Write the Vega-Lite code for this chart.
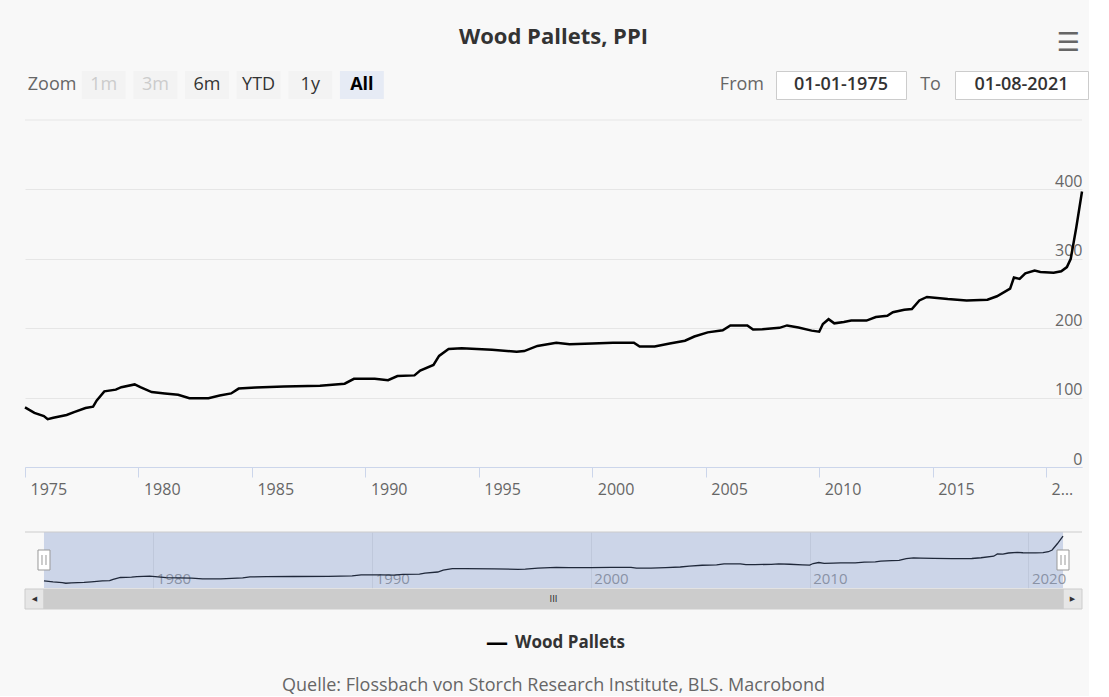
{
  "$schema": "https://vega.github.io/schema/vega-lite/v6.json",
  "background": "#f8f8f8",
  "padding": {"left": 20, "top": 16, "right": 0, "bottom": 0},
  "config": {
    "font": "Open Sans",
    "view": {"stroke": null},
    "axis": {"labelFont": "Open Sans"}
  },
  "datasets": {
    "ppi": [
      {"date": "1975-01-01", "value": 86},
      {"date": "1975-06-01", "value": 78},
      {"date": "1975-11-01", "value": 73.5},
      {"date": "1976-01-01", "value": 69},
      {"date": "1976-04-01", "value": 71},
      {"date": "1976-11-01", "value": 75},
      {"date": "1977-03-01", "value": 79},
      {"date": "1977-09-01", "value": 85},
      {"date": "1978-01-01", "value": 87},
      {"date": "1978-03-01", "value": 96},
      {"date": "1978-07-01", "value": 109},
      {"date": "1979-01-01", "value": 111.5},
      {"date": "1979-04-01", "value": 115},
      {"date": "1979-11-01", "value": 119},
      {"date": "1980-02-01", "value": 115},
      {"date": "1980-08-01", "value": 108},
      {"date": "1981-03-01", "value": 106},
      {"date": "1981-10-01", "value": 104},
      {"date": "1982-04-01", "value": 99},
      {"date": "1983-02-01", "value": 99},
      {"date": "1983-08-01", "value": 103},
      {"date": "1984-02-01", "value": 106},
      {"date": "1984-06-01", "value": 113},
      {"date": "1985-03-01", "value": 114.5},
      {"date": "1986-06-01", "value": 116},
      {"date": "1988-01-01", "value": 117},
      {"date": "1989-02-01", "value": 120},
      {"date": "1989-07-01", "value": 127},
      {"date": "1990-06-01", "value": 127},
      {"date": "1991-01-01", "value": 125},
      {"date": "1991-06-01", "value": 131},
      {"date": "1992-03-01", "value": 132},
      {"date": "1992-06-01", "value": 139},
      {"date": "1993-01-01", "value": 147},
      {"date": "1993-04-01", "value": 160},
      {"date": "1993-09-01", "value": 170},
      {"date": "1994-04-01", "value": 171},
      {"date": "1995-08-01", "value": 169},
      {"date": "1996-09-01", "value": 166},
      {"date": "1997-01-01", "value": 167},
      {"date": "1997-08-01", "value": 174.5},
      {"date": "1998-06-01", "value": 179},
      {"date": "1999-01-01", "value": 177},
      {"date": "2000-01-01", "value": 178},
      {"date": "2000-12-01", "value": 179},
      {"date": "2001-11-01", "value": 179},
      {"date": "2002-02-01", "value": 173.5},
      {"date": "2002-10-01", "value": 173.5},
      {"date": "2003-06-01", "value": 178},
      {"date": "2004-02-01", "value": 182},
      {"date": "2004-07-01", "value": 188},
      {"date": "2005-02-01", "value": 194},
      {"date": "2005-10-01", "value": 197},
      {"date": "2006-02-01", "value": 204},
      {"date": "2006-11-01", "value": 204},
      {"date": "2007-02-01", "value": 198},
      {"date": "2007-07-01", "value": 198.5},
      {"date": "2008-04-01", "value": 200.5},
      {"date": "2008-08-01", "value": 204},
      {"date": "2009-02-01", "value": 201},
      {"date": "2009-09-01", "value": 196.5},
      {"date": "2010-01-01", "value": 195},
      {"date": "2010-03-01", "value": 206},
      {"date": "2010-06-01", "value": 213},
      {"date": "2010-09-01", "value": 207},
      {"date": "2011-02-01", "value": 209},
      {"date": "2011-06-01", "value": 211},
      {"date": "2012-02-01", "value": 211},
      {"date": "2012-07-01", "value": 216},
      {"date": "2013-01-01", "value": 218},
      {"date": "2013-04-01", "value": 223},
      {"date": "2013-10-01", "value": 226.5},
      {"date": "2014-02-01", "value": 227.5},
      {"date": "2014-06-01", "value": 240},
      {"date": "2014-10-01", "value": 245},
      {"date": "2015-02-01", "value": 244},
      {"date": "2015-09-01", "value": 242},
      {"date": "2016-07-01", "value": 240},
      {"date": "2017-06-01", "value": 241},
      {"date": "2017-11-01", "value": 246},
      {"date": "2018-06-01", "value": 257},
      {"date": "2018-08-01", "value": 273},
      {"date": "2018-11-01", "value": 271},
      {"date": "2019-02-01", "value": 279},
      {"date": "2019-07-01", "value": 283},
      {"date": "2019-10-01", "value": 281},
      {"date": "2020-05-01", "value": 280},
      {"date": "2020-09-01", "value": 282},
      {"date": "2020-12-01", "value": 288},
      {"date": "2021-02-01", "value": 300},
      {"date": "2021-05-01", "value": 345},
      {"date": "2021-08-01", "value": 397}
    ],
    "buttons": [
      {"button": "Zoom", "state": "label"},
      {"button": "1m", "state": "disabled"},
      {"button": "3m", "state": "disabled"},
      {"button": "6m", "state": "enabled"},
      {"button": "YTD", "state": "enabled"},
      {"button": "1y", "state": "enabled"},
      {"button": "All", "state": "selected"}
    ],
    "scroll": [
      {"part": "button", "side": "left", "start": "1974-02-18", "end": "1975-01-01"},
      {"part": "thumb", "side": "middle", "start": "1975-01-01", "end": "2021-08-01"},
      {"part": "button", "side": "right", "start": "2021-08-01", "end": "2022-06-14"}
    ]
  },
  "spacing": 19,
  "vconcat": [
    {
      "spacing": 14,
      "vconcat": [
        {
          "width": 1057,
          "height": 40,
          "data": {"values": [{"title": "Wood Pallets, PPI"}]},
          "layer": [
            {
              "mark": {"type": "text", "fontSize": 22, "fontWeight": "bold", "color": "#333333", "dy": 1},
              "encoding": {"text": {"field": "title"}}
            },
            {
              "mark": {"type": "text", "text": "☰", "font": "DejaVu Sans", "fontSize": 26, "color": "#666666", "align": "right", "dx": -2, "dy": 6.5},
              "encoding": {"x": {"value": "width"}}
            }
          ]
        },
        {
          "spacing": 0,
          "hconcat": [
            {
              "width": 364,
              "height": 28,
              "data": {"name": "buttons"},
              "encoding": {
                "x": {
                  "field": "button",
                  "type": "nominal",
                  "sort": null,
                  "scale": {"domain": ["Zoom", "1m", "3m", "6m", "YTD", "1y", "All"], "paddingInner": 0.15, "paddingOuter": 0.1},
                  "axis": null
                }
              },
              "layer": [
                {
                  "transform": [{"filter": "datum.state == 'disabled' || datum.state == 'enabled'"}],
                  "mark": {"type": "rect", "fill": "#f3f3f3"}
                },
                {
                  "transform": [{"filter": "datum.state == 'selected'"}],
                  "mark": {"type": "rect", "fill": "#e6ebf5"}
                },
                {
                  "transform": [{"filter": "datum.state == 'label'"}],
                  "mark": {"type": "text", "fontSize": 18, "color": "#666666"},
                  "encoding": {"text": {"field": "button"}}
                },
                {
                  "transform": [{"filter": "datum.state == 'disabled'"}],
                  "mark": {"type": "text", "fontSize": 18, "color": "#cccccc"},
                  "encoding": {"text": {"field": "button"}}
                },
                {
                  "transform": [{"filter": "datum.state == 'enabled'"}],
                  "mark": {"type": "text", "fontSize": 18, "color": "#333333"},
                  "encoding": {"text": {"field": "button"}}
                },
                {
                  "transform": [{"filter": "datum.state == 'selected'"}],
                  "mark": {"type": "text", "fontSize": 18, "fontWeight": "bold", "color": "#000000"},
                  "encoding": {"text": {"field": "button"}}
                }
              ]
            },
            {
              "width": 386,
              "height": 28,
              "data": {"values": [{"t": "From"}]},
              "mark": {"type": "text", "align": "right", "dx": -11, "fontSize": 18, "color": "#666666"},
              "encoding": {"x": {"value": "width"}, "text": {"field": "t"}}
            },
            {
              "width": 130,
              "height": 28,
              "view": {"fill": "#ffffff", "stroke": "#cccccc"},
              "data": {"values": [{"t": "01-01-1975"}]},
              "mark": {"type": "text", "fontSize": 18, "fontWeight": 600, "color": "#333333"},
              "encoding": {"text": {"field": "t"}}
            },
            {
              "width": 47,
              "height": 28,
              "data": {"values": [{"t": "To"}]},
              "mark": {"type": "text", "fontSize": 18, "color": "#666666"},
              "encoding": {"text": {"field": "t"}}
            },
            {
              "width": 133,
              "height": 28,
              "view": {"fill": "#ffffff", "stroke": "#cccccc"},
              "data": {"values": [{"t": "01-08-2021"}]},
              "mark": {"type": "text", "fontSize": 18, "fontWeight": 600, "color": "#333333"},
              "encoding": {"text": {"field": "t"}}
            }
          ]
        }
      ]
    },
    {
      "width": 1057,
      "height": 347,
      "data": {"name": "ppi"},
      "layer": [
        {
          "data": {"values": [{"level": 500}]},
          "mark": {"type": "rule", "color": "#e6e6e6", "strokeWidth": 1},
          "encoding": {"y": {"field": "level", "type": "quantitative"}}
        },
        {
          "mark": {"type": "line", "color": "#000000", "strokeWidth": 2.5},
          "encoding": {
            "x": {
              "field": "date",
              "type": "temporal",
              "scale": {"type": "utc", "domain": [{"year": 1975, "month": 1, "date": 1, "utc": true}, {"year": 2021, "month": 8, "date": 1, "utc": true}]},
              "axis": {
                "title": null,
                "values": [
                  {"year": 1975, "utc": true}, {"year": 1980, "utc": true}, {"year": 1985, "utc": true},
                  {"year": 1990, "utc": true}, {"year": 1995, "utc": true}, {"year": 2000, "utc": true},
                  {"year": 2005, "utc": true}, {"year": 2010, "utc": true}, {"year": 2015, "utc": true},
                  {"year": 2020, "utc": true}
                ],
                "format": "%Y",
                "labelExpr": "utcyear(datum.value) == 2020 ? '2…' : datum.label",
                "grid": false,
                "domainColor": "#ccd6eb",
                "tickColor": "#ccd6eb",
                "tickSize": 10,
                "labelAlign": "left",
                "labelOffset": 5,
                "labelPadding": 4,
                "labelColor": "#666666",
                "labelFontSize": 16,
                "labelFlush": false,
                "labelOverlap": false,
                "minExtent": 45,
                "maxExtent": 45
              }
            },
            "y": {
              "field": "value",
              "type": "quantitative",
              "scale": {"domain": [0, 500], "nice": false},
              "axis": {
                "title": null,
                "orient": "right",
                "values": [0, 100, 200, 300, 400],
                "grid": true,
                "gridColor": "#e6e6e6",
                "domain": false,
                "ticks": false,
                "tickSize": 0,
                "labelAlign": "right",
                "labelBaseline": "alphabetic",
                "labelOffset": -3,
                "labelPadding": 0,
                "labelColor": "#666666",
                "labelFontSize": 16,
                "labelFlush": false,
                "labelOverlap": false,
                "minExtent": 0,
                "maxExtent": 0
              }
            }
          }
        }
      ]
    },
    {
      "spacing": 0,
      "vconcat": [
        {
          "width": 1057,
          "height": 56,
          "layer": [
            {
              "data": {"name": "scroll"},
              "transform": [{"filter": "datum.part == 'thumb'"}],
              "mark": {"type": "rect", "fill": "#6685c2", "opacity": 0.3},
              "encoding": {
                "x": {
                  "field": "start",
                  "type": "temporal",
                  "scale": {"type": "utc", "domain": [{"year": 1974, "month": 2, "date": 18, "utc": true}, {"year": 2022, "month": 6, "date": 14, "utc": true}]},
                  "axis": {
                    "title": null,
                    "values": [
                      {"year": 1980, "utc": true}, {"year": 1990, "utc": true}, {"year": 2000, "utc": true},
                      {"year": 2010, "utc": true}, {"year": 2020, "utc": true}
                    ],
                    "format": "%Y",
                    "grid": true,
                    "gridColor": "#e6e6e6",
                    "domain": false,
                    "ticks": false,
                    "tickSize": 0,
                    "labelAlign": "left",
                    "labelBaseline": "middle",
                    "labelOffset": 3,
                    "labelPadding": -10,
                    "labelColor": "#999999",
                    "labelFontSize": 15,
                    "labelFlush": false,
                    "labelOverlap": false,
                    "minExtent": 0,
                    "maxExtent": 0
                  }
                },
                "x2": {"field": "end"}
              }
            },
            {
              "data": {"values": [{"level": 425}]},
              "mark": {"type": "rule", "color": "#cccccc", "strokeWidth": 1},
              "encoding": {
                "y": {"field": "level", "type": "quantitative", "scale": {"domain": [36, 425], "nice": false, "zero": false}, "axis": null}
              }
            },
            {
              "data": {"name": "ppi"},
              "mark": {"type": "line", "color": "#1f283a", "strokeWidth": 1.3},
              "encoding": {
                "x": {"field": "date", "type": "temporal", "title": null},
                "y": {"field": "value", "type": "quantitative", "scale": {"domain": [36, 425], "nice": false, "zero": false}, "axis": null}
              }
            },
            {
              "data": {"name": "scroll"},
              "transform": [{"filter": "datum.part == 'thumb'"}],
              "mark": {"type": "point", "shape": "M-0.6,-1H0.6V1H-0.6Z M-0.2,-0.5V0.5 M0.2,-0.5V0.5", "size": 400, "filled": true, "fill": "#ffffff", "stroke": "#999999", "strokeWidth": 1, "opacity": 1},
              "encoding": {"x": {"field": "start", "type": "temporal", "title": null}}
            },
            {
              "data": {"name": "scroll"},
              "transform": [{"filter": "datum.part == 'thumb'"}],
              "mark": {"type": "point", "shape": "M-0.6,-1H0.6V1H-0.6Z M-0.2,-0.5V0.5 M0.2,-0.5V0.5", "size": 400, "filled": true, "fill": "#ffffff", "stroke": "#999999", "strokeWidth": 1, "opacity": 1},
              "encoding": {"x": {"field": "end", "type": "temporal", "title": null}}
            }
          ]
        },
        {
          "width": 1057,
          "height": 20,
          "data": {"name": "scroll"},
          "layer": [
            {
              "transform": [{"filter": "datum.part == 'button'"}],
              "mark": {"type": "rect", "fill": "#e6e6e6", "stroke": "#cccccc", "strokeWidth": 1},
              "encoding": {
                "x": {
                  "field": "start",
                  "type": "temporal",
                  "scale": {"type": "utc", "domain": [{"year": 1974, "month": 2, "date": 18, "utc": true}, {"year": 2022, "month": 6, "date": 14, "utc": true}]},
                  "axis": null
                },
                "x2": {"field": "end"}
              }
            },
            {
              "transform": [{"filter": "datum.part == 'thumb'"}],
              "mark": {"type": "rect", "fill": "#cccccc", "stroke": "#cccccc", "strokeWidth": 1},
              "encoding": {"x": {"field": "start", "type": "temporal", "axis": null}, "x2": {"field": "end"}}
            },
            {
              "transform": [{"filter": "datum.side == 'left'"}],
              "mark": {"type": "text", "text": "◀", "font": "DejaVu Sans", "fontSize": 7, "color": "#333333", "dx": -9.5},
              "encoding": {"x": {"field": "end", "type": "temporal", "axis": null}}
            },
            {
              "transform": [{"filter": "datum.side == 'right'"}],
              "mark": {"type": "text", "text": "▶", "font": "DejaVu Sans", "fontSize": 7, "color": "#333333", "dx": 9.5},
              "encoding": {"x": {"field": "start", "type": "temporal", "axis": null}}
            },
            {
              "transform": [{"filter": "datum.side == 'middle'"}],
              "mark": {"type": "text", "text": "III", "font": "DejaVu Sans", "fontSize": 9, "color": "#333333"},
              "encoding": {}
            }
          ]
        }
      ]
    },
    {
      "width": 1057,
      "height": 28,
      "data": {"values": [{"series": "Wood Pallets"}]},
      "layer": [
        {
          "mark": {"type": "text", "fontSize": 17, "fontWeight": "bold", "color": "#333333", "dx": 16.5},
          "encoding": {"text": {"field": "series"}}
        },
        {
          "mark": {"type": "text", "text": "—", "fontSize": 22, "fontWeight": "bold", "color": "#000000", "dx": -56.5},
          "encoding": {}
        }
      ]
    },
    {
      "width": 1057,
      "height": 20,
      "data": {"values": [{"source": "Quelle: Flossbach von Storch Research Institute, BLS. Macrobond"}]},
      "mark": {"type": "text", "fontSize": 18, "color": "#666666"},
      "encoding": {"text": {"field": "source"}}
    }
  ]
}
